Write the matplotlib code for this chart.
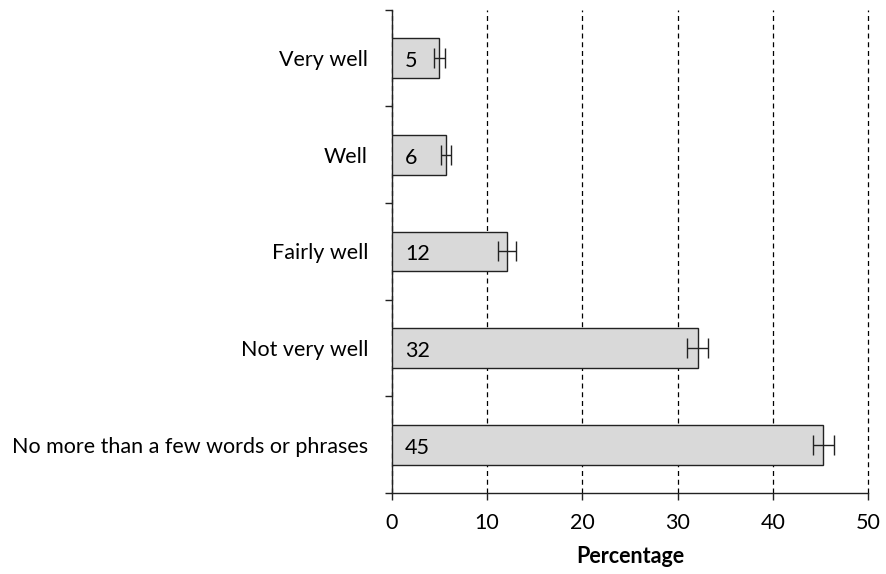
import matplotlib
matplotlib.use("Agg")
import matplotlib.pyplot as plt
import numpy as np

# Self-rated ability, percentage of respondents with error margins
categories = ["Very well", "Well", "Fairly well", "Not very well",
              "No more than a few words or phrases"]
values = [5.0, 5.7, 12.1, 32.1, 45.3]
errors = [0.6, 0.55, 0.9, 1.1, 1.15]
x_ticks = [0, 10, 20, 30, 40, 50]

plt.rcParams["font.family"] = ["Lato", "DejaVu Sans"]
FS = 15.5

fig = plt.figure(figsize=(8.86, 5.74), dpi=100)
ax = fig.add_axes([0.442, 0.141, 0.538, 0.842])

y = np.arange(len(categories))
ax.barh(y, values, height=0.41, color="#d9d9d9", edgecolor="#222222",
        linewidth=1.0, zorder=3)
ax.errorbar(values, y, xerr=errors, fmt="none", ecolor="#222222",
            elinewidth=1.0, capsize=7, capthick=1.0, zorder=4)

for yi, v in zip(y, values):
    ax.text(1.4, yi + 0.03, f"{v:.0f}", va="center", ha="left", fontsize=FS,
            color="black", zorder=5)

ax.set_ylim(len(categories) - 0.5, -0.5)
ax.set_xlim(0, 50)
ax.set_xticks(x_ticks)
ax.set_xticklabels([str(t) for t in x_ticks], fontsize=FS)
ax.set_yticks(y)
ax.set_yticklabels(categories, fontsize=FS)
ax.tick_params(axis="y", which="major", length=0, pad=17)
ax.set_yticks(np.arange(-0.5, len(categories)), minor=True)
ax.tick_params(axis="y", which="minor", length=5, width=1, color="#222222")
ax.tick_params(axis="x", length=5, width=1, color="#222222", pad=9)

ax.xaxis.grid(True, linestyle=(0, (4, 3)), color="black", linewidth=0.9,
              zorder=0)
for gl in ax.get_xgridlines():
    gl.set_clip_on(False)
ax.set_axisbelow(True)

for s in ["top", "right"]:
    ax.spines[s].set_visible(False)
for s in ["left", "bottom"]:
    ax.spines[s].set_color("#222222")
    ax.spines[s].set_linewidth(1.0)

ax.set_xlabel("Percentage", fontsize=FS, fontweight="bold", labelpad=10)

fig.savefig("out.png", dpi=100)
